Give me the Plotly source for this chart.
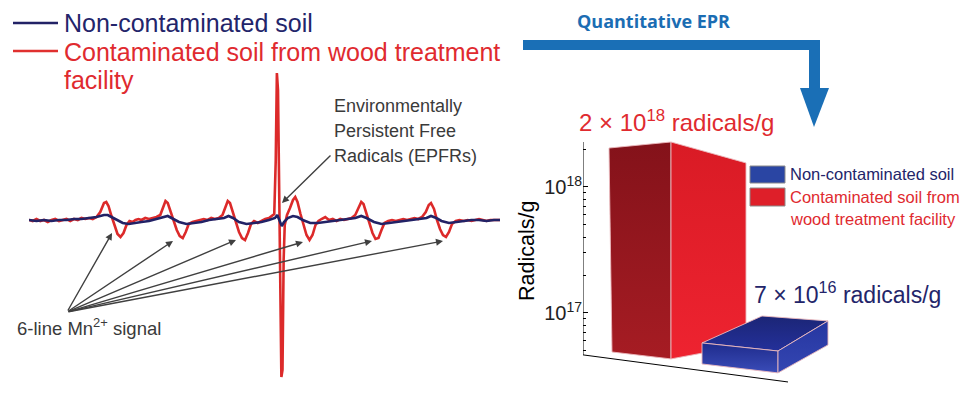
import math
import plotly.graph_objects as go

# page body has an 8px margin: lay out in reference pixels, then compensate
OFF = 8
W, H = 970 - OFF, 394 - OFF


def px(x):
    return (x - OFF) / W


def py(y):
    return 1 - (y - OFF) / H


# ---------------- EPR spectrum data (field in mT, intensity in a.u.) -------------
field_red = [
    310.0, 310.5, 311.0, 311.5, 312.0, 312.5, 313.0, 313.5, 314.0, 314.5,
    315.0, 315.5, 316.0, 316.5, 317.0, 317.5, 318.0, 318.5, 319.0, 319.5,
    320.0, 320.3, 320.6, 321.0, 321.4, 321.8, 322.2, 322.6, 323.0, 323.4,
    323.8, 324.2, 324.6, 325.0, 325.5, 326.0, 326.5, 327.0, 327.5, 327.9,
    328.2, 328.5, 328.9, 329.3, 329.7, 330.1, 330.5, 330.9, 331.3, 331.8,
    332.3, 332.8, 333.3, 333.8, 334.3, 334.8, 335.3, 335.8, 336.2, 336.5,
    336.8, 337.2, 337.6, 338.0, 338.4, 338.8, 339.2, 339.6, 340.0, 340.5,
    341.0, 341.5, 342.0, 342.4, 342.7, 342.9, 343.05, 343.2, 343.35, 343.5,
    343.65, 343.8, 343.95, 344.1, 344.4, 344.8, 345.2, 345.5, 345.8, 346.2,
    346.6, 347.0, 347.4, 347.8, 348.2, 348.6, 349.0, 349.5, 350.0, 350.5,
    351.0, 351.5, 352.0, 352.5, 353.0, 353.5, 353.9, 354.3, 354.6, 355.0,
    355.4, 355.8, 356.2, 356.6, 357.0, 357.4, 357.9, 358.4, 358.9, 359.4,
    359.9, 360.4, 360.9, 361.4, 361.9, 362.4, 362.9, 363.3, 363.6, 364.0,
    364.4, 364.8, 365.2, 365.6, 366.0, 366.4, 366.9, 367.4, 368.0, 368.5,
    369.0, 369.5, 370.0, 370.5, 371.0, 371.5, 372.0, 372.8,
]
int_red = [
    0, -1, 1, -1, 0, -2, 0, 1, -1, 0,
    1, -1, 1, 0, 2, 1, 2, 1, 3, 8,
    17, 18, 14, 4, -6, -14, -17, -13, -5, -1,
    -2, 0, 1, 0, 2, 1, 2, 3, 5, 12,
    19, 17, 8, -2, -10, -16, -18, -12, -4, -2,
    -1, 0, 1, 0, 2, 1, 2, 5, 13, 19,
    17, 7, -3, -12, -18, -20, -13, -4, -1, -3,
    -1, 1, 2, 4, 6, 60, 147, 130, 20, -60,
    -157, -150, -40, -5, 5, 12, 20, 23, 18, 6,
    -6, -15, -20, -15, -5, -1, 1, 3, 0, 1,
    -1, 1, 0, 1, 2, 5, 12, 18, 16, 7,
    -4, -13, -19, -18, -10, -3, -1, 0, -1, 0,
    1, 0, 1, 2, 1, 3, 8, 15, 17, 11,
    0, -9, -15, -17, -12, -4, -1, 0, -1, 0,
    -1, 0, 1, 0, -1, 0, 0, 0,
]
field_blue = [
    310.0, 311.0, 312.0, 313.0, 314.0, 315.0, 316.0, 317.0, 318.0, 319.0,
    320.0, 320.5, 321.0, 321.7, 322.5, 323.3, 324.0, 325.0, 326.0, 327.0,
    328.0, 328.5, 329.0, 330.0, 331.0, 332.0, 333.0, 334.0, 335.0, 336.0,
    336.6, 337.2, 338.0, 339.0, 340.0, 341.0, 342.0, 342.8, 343.1, 343.4,
    343.7, 344.0, 344.5, 345.2, 345.8, 346.5, 347.5, 348.5, 349.5, 350.5,
    351.5, 352.5, 353.5, 354.3, 355.0, 356.0, 357.0, 358.0, 359.0, 360.0,
    361.0, 362.0, 363.0, 363.6, 364.3, 365.0, 366.0, 367.0, 368.0, 369.0,
    370.0, 371.0, 372.0, 372.8,
]
int_blue = [
    0, -1, 0, -1, 0, 0, 1, 1, 2, 3,
    5, 5, 3, 0, -3, -4, -3, -2, -1, 1,
    3, 4, 2, -2, -4, -3, -2, 0, 1, 2,
    4, 2, -2, -4, -3, -2, 0, 2, 5, 0,
    -6, -2, 2, 4, 3, 0, -3, -3, -2, -1,
    0, 1, 2, 4, 2, -2, -4, -3, -2, -1,
    0, 1, 2, 4, 2, -1, -3, -2, -1, 0,
    0, -1, 0, 0,
]
assert len(field_red) == len(int_red) and len(field_blue) == len(int_blue)

# Mn2+ hyperfine line positions (arrow heads) and EPFR position
mn_lines_field = [321.07, 329.2, 337.6, 346.53, 355.73, 365.2]
mn_lines_int = [-13, -21, -20, -22, -21, -21]
epfr_field, epfr_int = 343.73, 17

# ---------------- Quantitative EPR data -------------
samples = ["Contaminated soil from wood treatment facility", "Non-contaminated soil"]
radicals_per_g = [2e18, 7e16]
y_axis_min, y_axis_max = 4.65e16, 2.275e18

RED = "#e02a2f"
NAVY = "#23256a"
BLUE_LINE = "#222266"
GRAY = "#3a3a3a"
FONT = "Liberation Sans, Arial, sans-serif"

fig = go.Figure()

# ---- spectrum
fig.add_trace(go.Scatter(x=field_red, y=int_red, mode="lines",
                         line=dict(color="#dc2a2a", width=2.6), showlegend=False,
                         name="Contaminated soil", xaxis="x", yaxis="y"))
fig.add_trace(go.Scatter(x=field_blue, y=int_blue, mode="lines",
                         line=dict(color=BLUE_LINE, width=2.6), showlegend=False,
                         name="Non-contaminated soil", xaxis="x", yaxis="y"))

# ---- pseudo-3D bars on a log axis
lb = math.log10(y_axis_min)
box_geom = [
    # contaminated (red): corner-on box, faces (dx, ref, dlog)
    dict(pos=0, faces=[
        dict(pts=[(-0.62, "v", 0.008), (0.0, "v", 0.056), (0.0, "b", -0.032), (-0.59, "b", 0.023)],
             grad=[[0, "#a61c23"], [1, "#84121a"]]),
        dict(pts=[(0.0, "v", 0.056), (0.75, "v", -0.11), (0.75, "b", 0.079), (0.0, "b", -0.032)],
             grad=[[0, "#ee2330"], [1, "#d91b25"]]),
    ]),
    # non-contaminated (blue): flat slab
    dict(pos=1, faces=[
        dict(pts=[(-0.69, "v", -0.083), (-0.09, "v", 0.131), (0.57, "v", 0.092), (0.07, "v", -0.147)],
             grad=[[0, "#24309a"], [1, "#1b2576"]]),
        dict(pts=[(-0.69, "v", -0.083), (0.07, "v", -0.147), (0.07, "b", -0.143), (-0.69, "b", -0.072)],
             grad=[[0, "#3a4cb8"], [1, "#1f2b8c"]]),
        dict(pts=[(0.07, "v", -0.147), (0.57, "v", 0.092), (0.57, "b", 0.079), (0.07, "b", -0.143)],
             grad=[[0, "#3446b2"], [1, "#2636a0"]]),
    ]),
]
for val, geom in zip(radicals_per_g, box_geom):
    lv = math.log10(val)
    for face in geom["faces"]:
        xs, ys = [], []
        for dx, ref, dl in face["pts"] + [face["pts"][0]]:
            xs.append(geom["pos"] + dx)
            ys.append(10 ** ((lv if ref == "v" else lb) + dl))
        fig.add_trace(go.Scatter(
            x=xs, y=ys, mode="lines", fill="toself",
            fillgradient=dict(type="vertical", colorscale=face["grad"]),
            line=dict(color="rgba(235,185,190,0.9)", width=1),
            showlegend=False, hoverinfo="skip", xaxis="x2", yaxis="y2"))

# axis lines of the 3D chart (vertical + slanted base)
fig.add_trace(go.Scatter(x=[-0.88, -0.88], y=[y_axis_min, y_axis_max], mode="lines",
                         line=dict(color="black", width=1), showlegend=False,
                         hoverinfo="skip", xaxis="x2", yaxis="y2"))
fig.add_trace(go.Scatter(x=[-0.88, 1.17], y=[y_axis_min, 10 ** (lb - 0.215)], mode="lines",
                         line=dict(color="black", width=1), showlegend=False,
                         hoverinfo="skip", xaxis="x2", yaxis="y2"))

minor_vals = [m * 10 ** e for e in (16, 17) for m in range(2, 10)
              if y_axis_min <= m * 10 ** e <= y_axis_max] + [2e18]

fig.update_layout(
    width=W, height=H, autosize=False,
    margin=dict(l=0, r=0, t=0, b=0),
    paper_bgcolor="white", plot_bgcolor="rgba(0,0,0,0)",
    font=dict(family=FONT, color=GRAY),
    xaxis=dict(domain=[px(29), px(500)], range=[310, 372.8], visible=False),
    yaxis=dict(domain=[py(385), py(60)], range=[-165, 160], visible=False),
    xaxis2=dict(domain=[px(583), px(883)], range=[-0.88, 2.12], visible=False, anchor="y2"),
    yaxis2=dict(domain=[py(392), py(130)], type="log", range=[16.3729, 18.4522],
                anchor="x2", showline=False, showgrid=False, zeroline=False,
                tickvals=[1e17, 1e18], ticktext=["10<sup>17</sup>", "10<sup>18</sup>"],
                ticks="inside", ticklen=5, tickcolor="black", tickwidth=1,
                tickfont=dict(size=20, color="#222222", family=FONT),
                minor=dict(tickvals=minor_vals, ticks="inside", ticklen=3,
                           tickcolor="black", tickwidth=1)),
)

ann = []
# Mn arrows
for fx, fy in zip(mn_lines_field, mn_lines_int):
    ann.append(dict(x=fx, y=fy, ax=315.07, ay=-92, xref="x", yref="y", axref="x", ayref="y",
                    text="", showarrow=True, arrowhead=2, arrowsize=1, arrowwidth=1.4,
                    arrowcolor="#404040", standoff=0))
ann.append(dict(x=epfr_field, y=epfr_int, ax=350.4, ay=66, xref="x", yref="y", axref="x", ayref="y",
                text="", showarrow=True, arrowhead=2, arrowsize=1, arrowwidth=1.4,
                arrowcolor="#404040", standoff=0))


def label(text, x, y, size, color, xanchor="left", bold=False, angle=0, family=FONT,
          yanchor="middle"):
    ann.append(dict(x=px(x), y=py(y), xref="paper", yref="paper", text=text, showarrow=False,
                    xanchor=xanchor, yanchor=yanchor, textangle=angle, borderpad=0,
                    font=dict(size=size, color=color, family=family,
                              weight="bold" if bold else "normal")))


label("6-line Mn<sup>2+</sup> signal", 16, 327, 18.5, GRAY)
label("Environmentally", 333, 106, 18, GRAY)
label("Persistent Free", 333, 131, 18, GRAY)
label("Radicals (EPFRs)", 333, 156, 18, GRAY)

label("Non-contaminated soil", 63, 23, 25, NAVY)
label("Contaminated soil from wood treatment", 63, 52, 25, RED)
label("facility", 63, 80, 25, RED)

label("Quantitative EPR", 576, OFF, 18, "#1b6db3", bold=True,
      family="Open Sans, Liberation Sans, Arial", yanchor="top")


def sci_label(v):
    e = int(math.floor(math.log10(v)))
    m = round(v / 10 ** e)
    return f"{m} × 10<sup>{e}</sup> radicals/g"


label(sci_label(radicals_per_g[0]), 578, 121, 24, RED)
label(sci_label(radicals_per_g[1]), 753, 293, 23, NAVY)

label("Radicals/g", 527, 251, 21.5, "black", xanchor="center", angle=-90)

label("Non-contaminated soil", 789, 174, 16.5, NAVY)
label("Contaminated soil from", 789, 197, 16.5, RED)
label("wood treatment facility", 789, 219, 16.5, RED)

fig.update_layout(annotations=ann)

ARROW_BLUE = "#1a6fb6"
shapes = [
    # legend lines of the spectrum
    dict(type="line", xref="paper", yref="paper", x0=px(13), x1=px(58), y0=py(23), y1=py(23),
         line=dict(color=BLUE_LINE, width=2.5)),
    dict(type="line", xref="paper", yref="paper", x0=px(13), x1=px(58), y0=py(51), y1=py(51),
         line=dict(color="#e0302f", width=2.5)),
    # elbow arrow
    dict(type="rect", xref="paper", yref="paper", x0=px(523), x1=px(820), y0=py(50), y1=py(40),
         fillcolor=ARROW_BLUE, line=dict(width=0)),
    dict(type="rect", xref="paper", yref="paper", x0=px(809), x1=px(820), y0=py(89), y1=py(40),
         fillcolor=ARROW_BLUE, line=dict(width=0)),
    dict(type="path", xref="paper", yref="paper",
         path=f"M {px(800)},{py(88)} L {px(829)},{py(88)} L {px(814)},{py(127)} Z",
         fillcolor=ARROW_BLUE, line=dict(width=0)),
    # legend swatches of the bar chart
    dict(type="rect", xref="paper", yref="paper", x0=px(750), x1=px(785), y0=py(183), y1=py(166),
         fillcolor="#2a45a3", line=dict(color="#8a8a8a", width=1)),
    dict(type="rect", xref="paper", yref="paper", x0=px(750), x1=px(785), y0=py(206), y1=py(188),
         fillcolor="#de1f29", line=dict(color="#8a8a8a", width=1)),
]
fig.update_layout(shapes=shapes)

fig.write_html("out.html")
